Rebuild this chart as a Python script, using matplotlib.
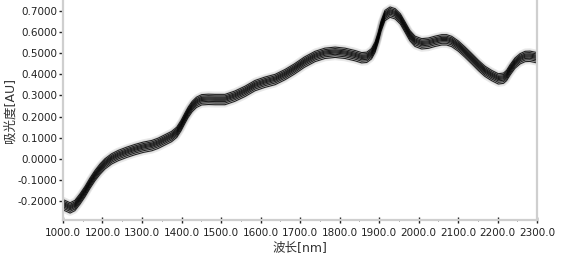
import numpy as np
import matplotlib
matplotlib.use("Agg")
from matplotlib import pyplot as plt

plt.rcParams['font.family'] = ['DejaVu Sans', 'Noto Sans CJK SC']
plt.rcParams['axes.unicode_minus'] = False

# mean spectrum (wavelength in nm, absorbance in AU)
wavelength = [1100, 1118, 1130, 1143, 1156, 1168, 1181, 1194, 1206, 1223,
              1240, 1261, 1282, 1303, 1325, 1341, 1358, 1375, 1388, 1399,
              1409, 1417, 1427, 1438, 1451, 1468, 1485, 1510, 1535, 1561,
              1586, 1611, 1637, 1662, 1686, 1711, 1738, 1763, 1789, 1814,
              1839, 1856, 1869, 1881, 1890, 1898, 1905, 1915, 1928, 1941,
              1954, 1966, 1978, 1991, 2008, 2025, 2042, 2059, 2071, 2084,
              2101, 2118, 2135, 2152, 2168, 2185, 2202, 2215, 2223, 2232,
              2244, 2257, 2270, 2282, 2300]
absorbance = [-0.215, -0.230, -0.219, -0.188, -0.152, -0.114, -0.077, -0.046, -0.022, 0.002,
              0.018, 0.033, 0.046, 0.057, 0.065, 0.076, 0.092, 0.108, 0.128, 0.160,
              0.196, 0.223, 0.250, 0.270, 0.282, 0.284, 0.283, 0.283, 0.299, 0.322,
              0.349, 0.365, 0.378, 0.401, 0.428, 0.460, 0.487, 0.502, 0.507, 0.502,
              0.491, 0.481, 0.483, 0.500, 0.531, 0.578, 0.630, 0.681, 0.697, 0.689,
              0.665, 0.626, 0.586, 0.559, 0.547, 0.550, 0.559, 0.566, 0.566, 0.558,
              0.536, 0.507, 0.476, 0.444, 0.417, 0.397, 0.381, 0.384, 0.397, 0.424,
              0.455, 0.476, 0.487, 0.488, 0.481]

# shift of each sample spectrum from the mean (AU), estimated from the band width
sample_offsets = [-0.027, -0.019, -0.012, -0.006, -0.001, 0.004, 0.009, 0.015, 0.022]

x_ticks = [1100, 1200, 1300, 1400, 1500, 1600, 1700, 1800, 1900, 2000, 2100, 2200, 2300]
x_tick_labels = ["1000.0", "1200.0", "1300.0", "1400.0", "1500.0", "1600.0", "1700.0",
                 "1800.0", "1900.0", "2000.0", "2100.0", "2200.0", "2300.0"]
y_ticks = [-0.2, -0.1, 0.0, 0.1, 0.2, 0.3, 0.4, 0.5, 0.6, 0.7]

wl = np.array(wavelength)
ab = np.array(absorbance)

fig = plt.figure(figsize=(5.66, 2.61), dpi=100)
ax = fig.add_axes([0.1113, 0.157, 0.8375, 0.843])

# gray halo first, then the black spectra on top
for off in sample_offsets:
    ax.plot(wl, ab + off, color='#8c8c8c', lw=4.0, alpha=0.2,
            solid_joinstyle='round')
for off in sample_offsets:
    ax.plot(wl, ab + off, color='#000000', lw=0.75, alpha=0.85,
            solid_joinstyle='round')

ax.set_xlim(1100, 2300)
ax.set_ylim(-0.29, 0.752)

ax.set_xticks(x_ticks)
ax.set_xticklabels(x_tick_labels)
ax.set_xticks(np.arange(1150, 2300, 100), minor=True)
ax.set_yticks(y_ticks)
ax.set_yticklabels(["%.4f" % v for v in y_ticks])

ax.tick_params(axis='both', labelsize=7.5, colors='#222222', width=1.0)
ax.tick_params(axis='x', direction='inout', length=4, pad=4)
ax.tick_params(axis='x', which='minor', direction='inout', length=2, color='#555555')
ax.tick_params(axis='y', direction='out', length=3, pad=1)

for side in ['left', 'bottom', 'right']:
    ax.spines[side].set_color('#cfcfcf')
    ax.spines[side].set_linewidth(1.6)
ax.spines['top'].set_visible(False)

ax.set_xlabel("波长[nm]", fontsize=9, color='#333333', labelpad=2)
ax.set_ylabel("吸光度[AU]", fontsize=9, color='#333333', labelpad=1)

fig.savefig("out.png", dpi=100)
